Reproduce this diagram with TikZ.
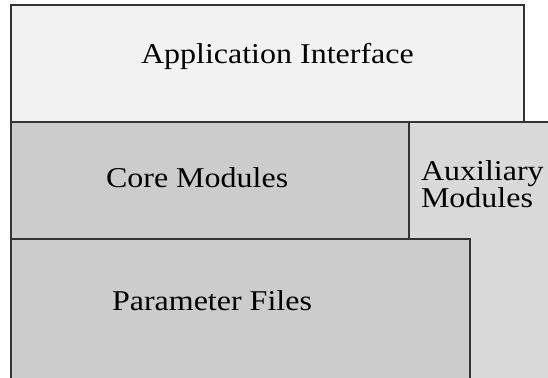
\documentclass[tikz,border=0pt]{standalone}
\usepackage{fontspec}
\setmainfont{Liberation Serif}
\definecolor{topfill}{HTML}{F2F2F2}
\definecolor{corefill}{HTML}{CCCCCC}
\definecolor{auxfill}{HTML}{D9D9D9}
\definecolor{edge}{HTML}{333333}
\begin{document}
\begin{tikzpicture}[x=1pt,y=-1pt,
  layer/.style={draw=edge,line width=1.1pt},
  label/.style={anchor=base west,inner sep=0pt,outer sep=0pt,font=\fontsize{28.7}{25}\selectfont}]
\useasboundingbox (0,0) rectangle (548,377);
\clip (0,0) rectangle (548,377);
\fill[white] (0,0) rectangle (548,377);
\draw[layer,fill=auxfill] (409,122) rectangle (570,400);
\draw[layer,fill=topfill] (11,5) rectangle (524,122);
\draw[layer,fill=corefill] (11,122) rectangle (409,239);
\draw[layer,fill=corefill] (11,239) rectangle (470,400);
\node[label] (app) at (141,64) {\scalebox{1.115}[1]{Application Interface}};
\node[label] (core) at (106,187.3) {\scalebox{1.115}[1]{Core Modules}};
\node[label] (param) at (112,310.7) {\scalebox{1.115}[1]{Parameter Files}};
\node[label] (aux) at (421,180) {\scalebox{1.115}[1]{\begin{tabular}[t]{@{}l@{}}Auxiliary\\Modules\end{tabular}}};
\end{tikzpicture}
\end{document}
